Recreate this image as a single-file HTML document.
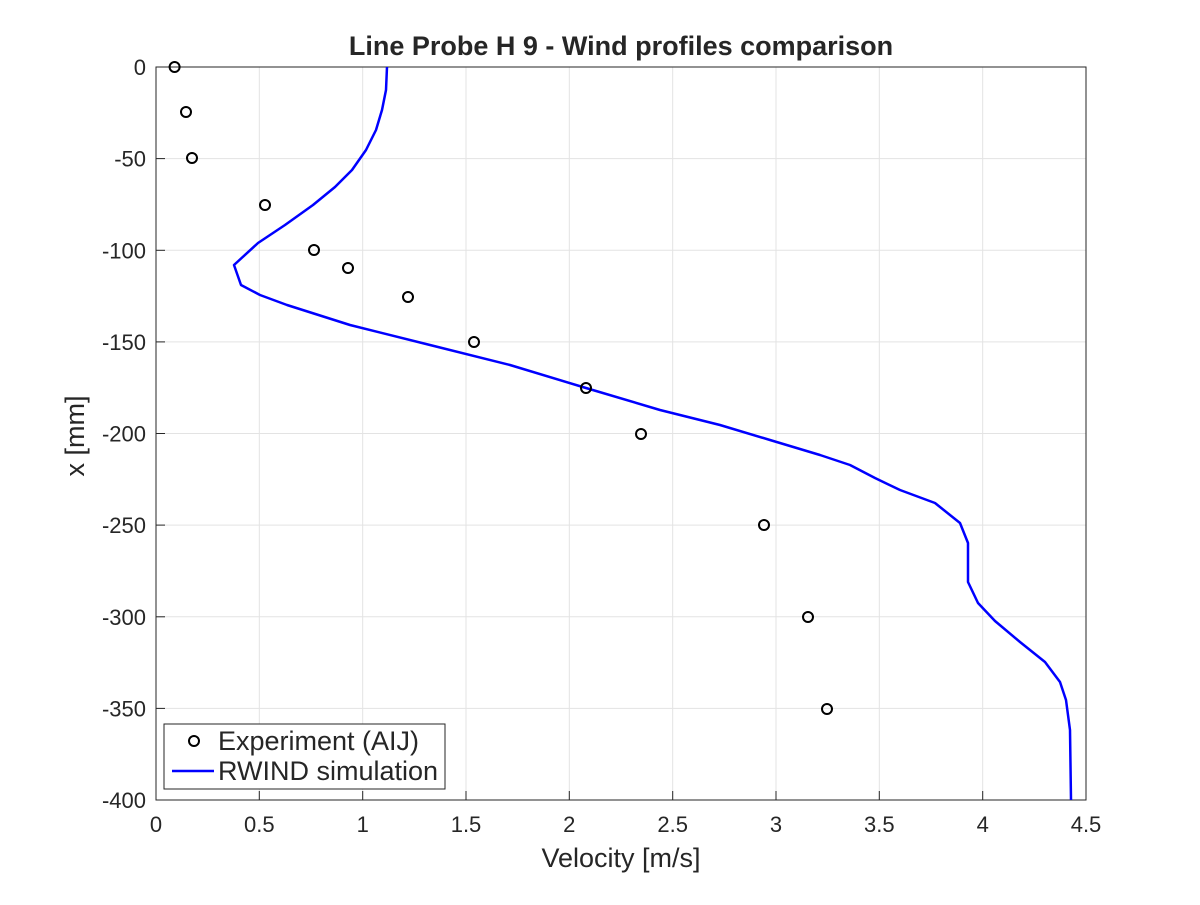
<!DOCTYPE html>
<html><head><meta charset="utf-8"><style>html,body{margin:0;padding:0;background:#fff}</style></head>
<body>
<svg width="1200" height="900" xmlns="http://www.w3.org/2000/svg" font-family="Liberation Sans, sans-serif">
<rect width="1200" height="900" fill="#fff"/>
<g stroke="#e3e3e3" stroke-width="1">
<line x1="259.3" y1="67" x2="259.3" y2="800"/><line x1="362.7" y1="67" x2="362.7" y2="800"/><line x1="466" y1="67" x2="466" y2="800"/><line x1="569.3" y1="67" x2="569.3" y2="800"/><line x1="672.7" y1="67" x2="672.7" y2="800"/><line x1="776" y1="67" x2="776" y2="800"/><line x1="879.3" y1="67" x2="879.3" y2="800"/><line x1="982.7" y1="67" x2="982.7" y2="800"/>
<line x1="156" y1="158.6" x2="1086" y2="158.6"/><line x1="156" y1="250.3" x2="1086" y2="250.3"/><line x1="156" y1="341.9" x2="1086" y2="341.9"/><line x1="156" y1="433.5" x2="1086" y2="433.5"/><line x1="156" y1="525.1" x2="1086" y2="525.1"/><line x1="156" y1="616.8" x2="1086" y2="616.8"/><line x1="156" y1="708.4" x2="1086" y2="708.4"/>
</g>
<rect x="156" y="67" width="930" height="733" fill="none" stroke="#262626" stroke-width="1"/>
<g stroke="#262626">
<line x1="156" y1="800" x2="156" y2="791"/><line x1="259.3" y1="800" x2="259.3" y2="791"/><line x1="362.7" y1="800" x2="362.7" y2="791"/><line x1="466" y1="800" x2="466" y2="791"/><line x1="569.3" y1="800" x2="569.3" y2="791"/><line x1="672.7" y1="800" x2="672.7" y2="791"/><line x1="776" y1="800" x2="776" y2="791"/><line x1="879.3" y1="800" x2="879.3" y2="791"/><line x1="982.7" y1="800" x2="982.7" y2="791"/>
<line x1="156" y1="67" x2="165" y2="67"/><line x1="156" y1="158.6" x2="165" y2="158.6"/><line x1="156" y1="250.3" x2="165" y2="250.3"/><line x1="156" y1="341.9" x2="165" y2="341.9"/><line x1="156" y1="433.5" x2="165" y2="433.5"/><line x1="156" y1="525.1" x2="165" y2="525.1"/><line x1="156" y1="616.8" x2="165" y2="616.8"/><line x1="156" y1="708.4" x2="165" y2="708.4"/>
</g>
<g font-size="22" fill="#262626" text-anchor="middle">
<text x="156" y="832">0</text><text x="259.3" y="832">0.5</text><text x="362.7" y="832">1</text><text x="466" y="832">1.5</text><text x="569.3" y="832">2</text><text x="672.7" y="832">2.5</text><text x="776" y="832">3</text><text x="879.3" y="832">3.5</text><text x="982.7" y="832">4</text><text x="1086" y="832">4.5</text>
</g>
<g font-size="22" fill="#262626" text-anchor="end">
<text x="146" y="75">0</text><text x="146" y="166.6">-50</text><text x="146" y="258.3">-100</text><text x="146" y="349.9">-150</text><text x="146" y="441.5">-200</text><text x="146" y="533.1">-250</text><text x="146" y="624.8">-300</text><text x="146" y="716.4">-350</text><text x="146" y="808">-400</text>
</g>
<text x="621" y="867" font-size="27" fill="#262626" text-anchor="middle">Velocity [m/s]</text>
<text transform="translate(84,436) rotate(-90)" font-size="27" fill="#262626" text-anchor="middle">x [mm]</text>
<text x="621" y="55" font-size="27" font-weight="bold" fill="#262626" text-anchor="middle">Line Probe H 9 - Wind profiles comparison</text>
<polyline fill="none" stroke="#0000ff" stroke-width="2.5" stroke-linejoin="round" points="387,67 386,90 382,110 376,130 366,150 352,170 335,187 313,205 285,225 258,243 234,265 241,285 260,295 287,305 350,325 430,345 510,365 586,388 660,410 720,425 770,440 820,455 850,465 875,478 900,490 935,503 960,523 968,543 968,582 978,603 995,621 1020,642 1045,662 1060,682 1066,700 1070,730 1071,800"/>
<g fill="none" stroke="#000" stroke-width="2">
<circle cx="174.6" cy="67" r="5"/><circle cx="186" cy="112" r="5"/><circle cx="192" cy="158" r="5"/><circle cx="265" cy="205" r="5"/><circle cx="314" cy="250" r="5"/><circle cx="348" cy="268" r="5"/><circle cx="408" cy="297" r="5"/><circle cx="474" cy="342" r="5"/><circle cx="586" cy="388" r="5"/><circle cx="641" cy="434" r="5"/><circle cx="764" cy="525" r="5"/><circle cx="808" cy="617" r="5"/><circle cx="827" cy="709" r="5"/>
</g>
<rect x="164" y="724" width="281" height="65" fill="#fff" stroke="#262626" stroke-width="1"/>
<circle cx="194" cy="741" r="5" fill="none" stroke="#000" stroke-width="2"/>
<line x1="172" y1="771" x2="214" y2="771" stroke="#0000ff" stroke-width="2.5"/>
<text x="218" y="750" font-size="27" fill="#262626">Experiment (AIJ)</text>
<text x="218" y="780" font-size="27" fill="#262626">RWIND simulation</text>
</svg>
</body></html>
